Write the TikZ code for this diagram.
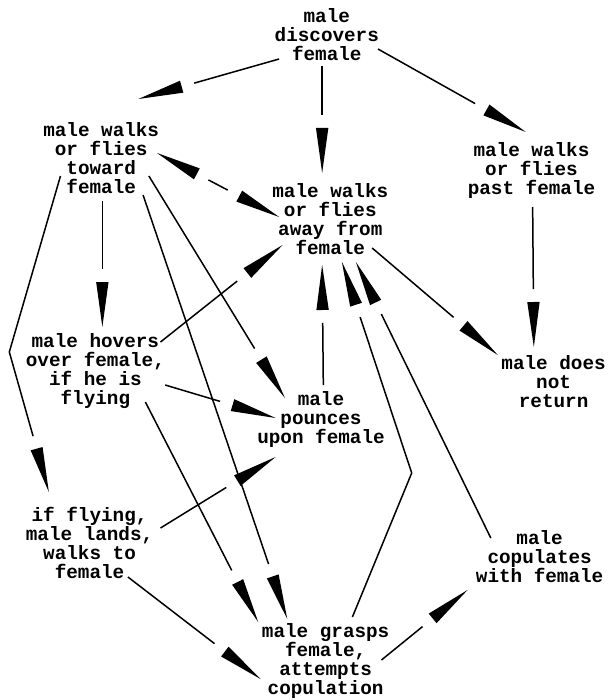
\documentclass[tikz,border=0pt]{standalone}
\usepackage{fontspec}
\newfontfamily\typer{Liberation Mono Bold}
% long thin dart head, set off from the line
\pgfdeclarearrow{
  name = Dart,
  parameters = {},
  setup code = {
    \pgfarrowssettipend{0pt}
    \pgfarrowssetlineend{-58pt}
    \pgfarrowssetbackend{-58pt}
  },
  drawing code = {
    \pgfpathmoveto{\pgfpointorigin}
    \pgfpathlineto{\pgfqpoint{-45pt}{6.2pt}}
    \pgfpathlineto{\pgfqpoint{-45pt}{-6.2pt}}
    \pgfpathclose
    \pgfusepathqfill
  }
}
\begin{document}
\begin{tikzpicture}[x=1.163pt,y=-1pt,
  every node/.style={align=center,inner sep=0pt,font=\typer\fontsize{19.3}{19}\selectfont},
  go/.style={line width=1.5pt,-Dart},
  gogo/.style={line width=1.5pt,Dart-Dart}]
\useasboundingbox (0,0) rectangle (522.8,700);

\node (dis) at (281,35) {male\\discovers\\female};
\node (tow) at (87,158) {male walks\\or flies\\toward\\female};
\node (away) at (284,219) {male walks\\or flies\\away from\\female};
\node (past) at (457,171) {male walks\\or flies\\past female};
\node (hov) at (82,371) {male hovers\\over female,\\if he is\\flying};
\node (pounce) at (276,420) {male\\pounces\\upon female};
\node (noret) at (476,382) {male does\\not\\return};
\node (land) at (77,543) {if flying,\\male lands,\\walks to\\female};
\node (cop) at (464,557) {male\\copulates\\with female};
\node (grasp) at (280,661) {male grasps\\female,\\attempts\\copulation};

\coordinate (bendl) at (8,352);
\coordinate (bendg) at (354,473);

\draw[go] ([shift={(-41,24)}]dis.center) -- ([shift={(32,-59)}]tow.center);
\draw[go] ([shift={(-4,31)}]dis.center) -- ([shift={(-7,-46)}]away.center);
\draw[go] ([shift={(44,14)}]dis.center) -- ([shift={(-5,-39)}]past.center);
\draw[gogo] ([shift={(48,-5)}]tow.center) -- ([shift={(-44,-2)}]away.center);
\draw[go] ([shift={(1,43)}]tow.center) -- ([shift={(6,-44)}]hov.center);
\draw[go] ([shift={(-35,18)}]tow.center) -- (bendl) -- ([shift={(-35,-51)}]land.center);
\draw[go] ([shift={(41,18)}]tow.center) -- ([shift={(-31,-22)}]pounce.center);
\draw[go] ([shift={(36,37)}]tow.center) -- ([shift={(-33,-42)}]grasp.center);
\draw[go] ([shift={(56,-29)}]hov.center) -- ([shift={(-41,26)}]away.center);
\draw[go] ([shift={(60,14)}]hov.center) -- ([shift={(-39,-2)}]pounce.center);
\draw[go] ([shift={(43,31)}]hov.center) -- ([shift={(-58,-39)}]grasp.center);
\draw[go] ([shift={(2,-35)}]pounce.center) -- ([shift={(-7,46)}]away.center);
\draw[go] ([shift={(61,-15)}]land.center) -- ([shift={(-39,37)}]pounce.center);
\draw[go] ([shift={(33,34)}]land.center) -- ([shift={(-56,18)}]grasp.center);
\draw[go] ([shift={(23,-44)}]grasp.center) -- (bendg) -- ([shift={(10,43)}]away.center);
\draw[go] ([shift={(-42,-19)}]cop.center) -- ([shift={(22,43)}]away.center);
\draw[go] ([shift={(36,29)}]away.center) -- ([shift={(-48,-27)}]noret.center);
\draw[go] ([shift={(1,36)}]past.center) -- ([shift={(-17,-35)}]noret.center);
\draw[go] ([shift={(48,-1)}]grasp.center) -- ([shift={(-62,33)}]cop.center);
\end{tikzpicture}
\end{document}
